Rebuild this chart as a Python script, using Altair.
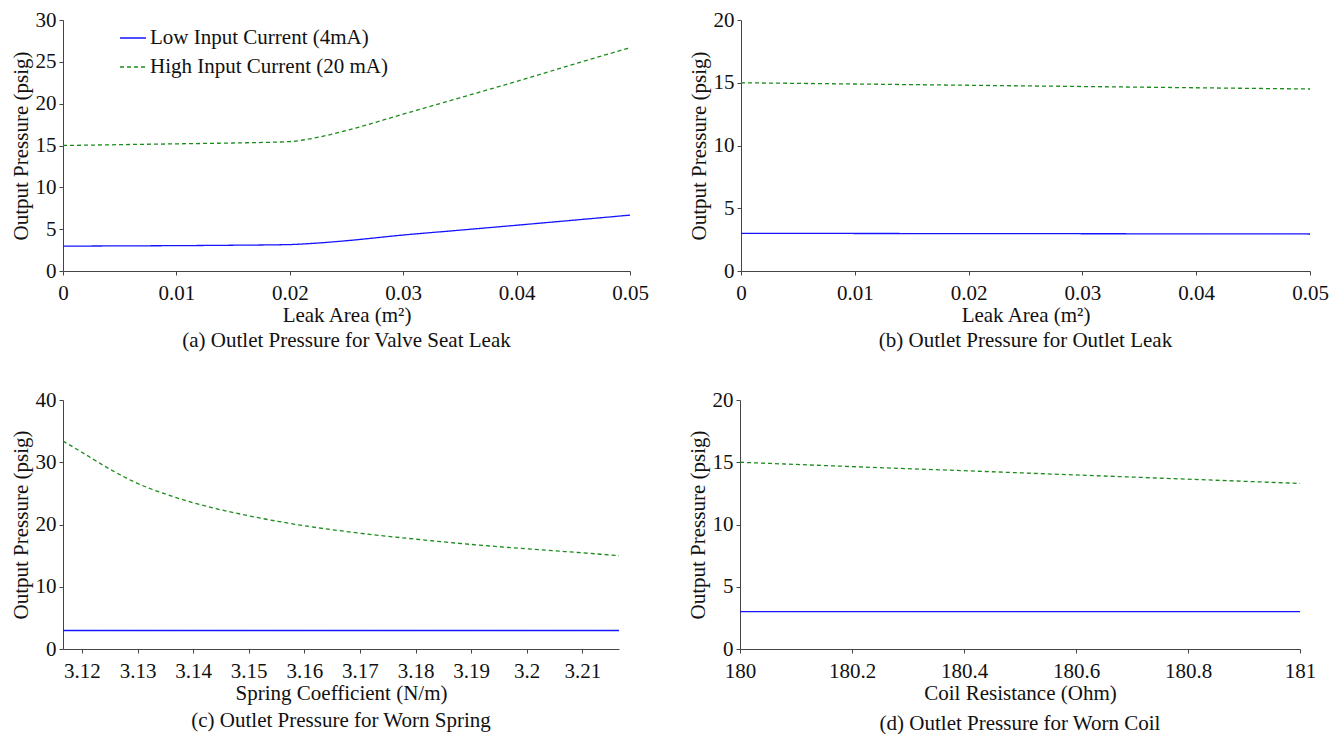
import altair as alt
import pandas as pd

FONT = "Liberation Serif"
FS = 21
LOW = "Low Input Current (4mA)"
HIGH = "High Input Current (20 mA)"

# (a) valve seat leak
a_x = [0.0, 0.005, 0.01, 0.015, 0.02, 0.022, 0.025, 0.03, 0.035, 0.04, 0.045, 0.05]
a_low = [2.97, 3.0, 3.03, 3.08, 3.16, 3.3, 3.62, 4.3, 4.88, 5.47, 6.07, 6.68]
a_high = [15.0, 15.1, 15.2, 15.3, 15.47, 15.85, 16.8, 18.75, 20.7, 22.66, 24.7, 26.7]

# (b) outlet leak
b_x = [0.0, 0.01, 0.02, 0.03, 0.04, 0.05]
b_low = [3.0, 2.99, 2.98, 2.97, 2.96, 2.95]
b_high = [15.0, 14.9, 14.8, 14.7, 14.6, 14.5]

# (c) worn spring
c_x = [3.1166, 3.12, 3.125, 3.13, 3.135, 3.14, 3.15, 3.16, 3.17, 3.18, 3.19, 3.2, 3.21, 3.2166]
c_low = [2.97] * 14
c_high = [33.4, 31.6, 28.9, 26.6, 24.9, 23.5, 21.4, 19.8, 18.6, 17.65, 16.8, 16.1, 15.45, 15.0]

# (d) worn coil
d_x = [180.0, 180.2, 180.4, 180.6, 180.8, 181.0]
d_low = [3.0, 3.0, 3.0, 3.0, 3.0, 3.0]
d_high = [15.0, 14.65, 14.32, 13.98, 13.64, 13.3]


def frame(xs, lows, highs):
    rows = [{"x": x, "y": y, "s": LOW} for x, y in zip(xs, lows)]
    rows += [{"x": x, "y": y, "s": HIGH} for x, y in zip(xs, highs)]
    return pd.DataFrame(rows)


def panel(df, xdom, xvals, xtitle, ymax, yvals, caption, w, h, xtp, cap_off, legend=False):
    if legend:
        leg = alt.Legend(
            title=None, orient="none", legendX=56, legendY=4,
            symbolType="stroke", symbolSize=676, symbolStrokeWidth=1.3,
            labelFont=FONT, labelFontSize=FS, labelColor="#111", labelLimit=0,
            rowPadding=5, labelOffset=3,
        )
    else:
        leg = None
    color = alt.Color("s:N", scale=alt.Scale(domain=[LOW, HIGH], range=["#1414ff", "#1a8c1a"]),
                      legend=leg, sort=[LOW, HIGH])
    dash = alt.StrokeDash("s:N", scale=alt.Scale(domain=[LOW, HIGH], range=[[1, 0], [4, 3]]),
                          legend=leg, sort=[LOW, HIGH])
    ch = alt.Chart(df).mark_line(strokeWidth=1.3, clip=True, interpolate="monotone").encode(
        x=alt.X("x:Q", scale=alt.Scale(domain=xdom, nice=False, zero=False),
                axis=alt.Axis(values=xvals, format="~g", title=xtitle, titlePadding=xtp)),
        y=alt.Y("y:Q", scale=alt.Scale(domain=[0, ymax], nice=False),
                axis=alt.Axis(values=yvals, title="Output Pressure (psig)")),
        color=color,
        strokeDash=dash,
    ).properties(
        width=w, height=h,
        title=alt.TitleParams(caption, orient="bottom", anchor="middle", font=FONT,
                              fontSize=FS, fontWeight="normal", color="#111", offset=cap_off),
    )
    return ch


pa = panel(frame(a_x, a_low, a_high), [0, 0.05], [0, 0.01, 0.02, 0.03, 0.04, 0.05],
           "Leak Area (m²)", 30, [0, 5, 10, 15, 20, 25, 30],
           "(a) Outlet Pressure for Valve Seat Leak", 567, 251, 1, 5, legend=True)
pb = panel(frame(b_x, b_low, b_high), [0, 0.05], [0, 0.01, 0.02, 0.03, 0.04, 0.05],
           "Leak Area (m²)", 20, [0, 5, 10, 15, 20],
           "(b) Outlet Pressure for Outlet Leak", 569, 251, 1, 5)
pc = panel(frame(c_x, c_low, c_high), [3.1166, 3.2166],
           [3.12, 3.13, 3.14, 3.15, 3.16, 3.17, 3.18, 3.19, 3.2, 3.21],
           "Spring Coefficient (N/m)", 40, [0, 10, 20, 30, 40],
           "(c) Outlet Pressure for Worn Spring", 556, 249, 1, 7)
pd_ = panel(frame(d_x, d_low, d_high), [180, 181],
            [180, 180.2, 180.4, 180.6, 180.8, 181],
            "Coil Resistance (Ohm)", 20, [0, 5, 10, 15, 20],
            "(d) Outlet Pressure for Worn Coil", 560, 249, 1, 10)

top = alt.hconcat(pa, pb, spacing=39).resolve_scale(color="independent", strokeDash="independent")
bottom = alt.hconcat(pc, pd_, spacing=68).resolve_scale(color="independent", strokeDash="independent")

chart = alt.vconcat(top, bottom, spacing=38).resolve_scale(
    color="independent", strokeDash="independent"
).configure_axis(
    labelFont=FONT, labelFontSize=FS, labelColor="#111",
    titleFont=FONT, titleFontSize=FS, titleFontWeight="normal", titleColor="#111",
    domainColor="#444", tickColor="#444", tickSize=4,
    grid=False, labelFlush=False, labelOverlap=False,
).configure_axisY(titlePadding=4, labelPadding=3).configure_axisX(labelPadding=7).configure_view(
    stroke=None
).properties(padding={"left": 2, "top": 1, "right": 0, "bottom": 0})

chart.save("out.html", embed_options={"renderer": "svg", "actions": False})
